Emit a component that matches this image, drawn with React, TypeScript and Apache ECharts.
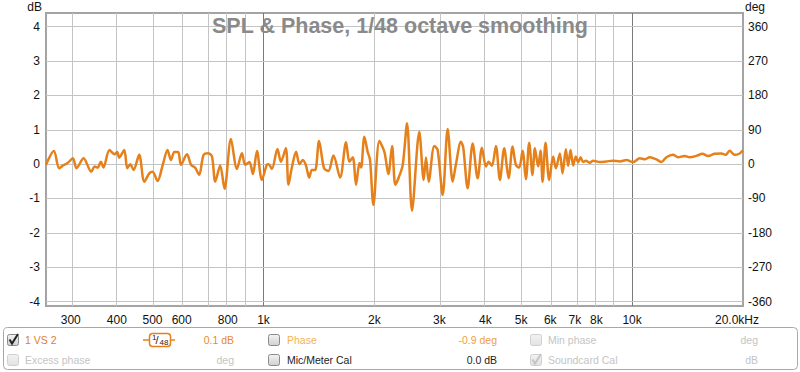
import React, { useEffect, useRef } from "react";
import * as echarts from "echarts";

// Frequency response (Hz) and level (dB)
const FREQ_HZ = [
  257, 270, 279, 285, 294, 304, 311, 325, 341, 348, 355, 362, 368, 382, 394, 401, 406, 419, 427, 435,
  444, 460, 475, 490, 500, 516, 533, 549, 561, 573, 587, 597, 620, 636, 652, 669, 688, 709, 725, 740,
  763, 784, 816, 847, 874, 892, 916, 936, 960, 990, 1021, 1032, 1054, 1091, 1115, 1150, 1169, 1194, 1226, 1252,
  1279, 1305, 1330, 1353, 1381, 1415, 1460, 1500, 1548, 1614, 1675, 1710, 1747, 1783, 1821, 1840, 1878, 1918, 1946, 1987,
  2063, 2128, 2182, 2233, 2279, 2328, 2387, 2452, 2529, 2647, 2721, 2760, 2807, 2907, 2969, 3063, 3160, 3261, 3328, 3434,
  3483, 3580, 3694, 3811, 3915, 4013, 4082, 4167, 4272, 4380, 4499, 4624, 4741, 4839, 4941, 5046, 5151, 5259, 5371, 5449,
  5563, 5647, 5718, 5825, 5958, 6108, 6212, 6370, 6478, 6612, 6708, 6810, 6921, 7038, 7141, 7249, 7367, 7491, 7682, 7841,
  8176, 8524, 8883, 9264, 9656, 10062, 10493, 10824, 11169, 11645, 12015, 12395, 12916, 13327, 13895, 14336, 14947, 15519, 16070, 16754,
  17470, 17944, 18399, 18980, 19583, 20000,
];
const SPL_DB = [
  -0.02, 0.38, -0.12, -0.05, 0.03, 0.17, -0.12, 0.17, -0.22, -0.07, -0.1, 0.07, -0.1, 0.41, 0.29, 0.35, 0.19, 0.41, -0.12, 0.0,
  -0.17, 0.27, -0.51, -0.27, -0.22, -0.49, -0.02, 0.41, 0.12, 0.35, 0.35, -0.02, 0.29, -0.02, -0.1, -0.31, 0.27, 0.32, 0.22, -0.51,
  -0.04, -0.72, 0.73, -0.14, 0.32, -0.02, 0.06, -0.29, 0.38, -0.46, -0.02, 0.0, -0.14, 0.44, 0.07, 0.46, -0.6, -0.1, 0.36, 0.0,
  0.12, -0.05, -0.39, -0.17, -0.17, 0.67, -0.12, -0.2, 0.25, -0.39, 0.64, 0.07, 0.2, -0.6, 0.03, -0.1, 0.8, 0.35, 0.12, -1.19,
  0.67, 0.36, -0.29, 0.53, -0.6, -0.39, -0.02, 1.19, -1.36, 0.94, -0.46, 0.19, -0.51, 0.53, 0.41, -0.9, 1.02, -0.51, 0.0, 0.65,
  0.49, -0.7, 0.6, -0.41, 0.48, -0.07, 0.07, -0.05, 0.53, -0.46, 0.46, -0.41, 0.51, -0.02, -0.1, 0.39, -0.44, 0.62, -0.32, 0.46,
  -0.07, 0.4, -0.51, 0.62, -0.46, 0.22, -0.12, 0.31, -0.27, 0.43, -0.05, 0.41, -0.04, 0.22, 0.05, 0.2, 0.06, 0.1, 0.04, 0.1,
  0.06, 0.08, 0.1, 0.08, 0.12, 0.06, 0.17, 0.14, 0.2, 0.14, 0.06, 0.2, 0.27, 0.2, 0.24, 0.2, 0.24, 0.3, 0.24, 0.3,
  0.31, 0.27, 0.39, 0.27, 0.31, 0.4,
];

const X_LABEL_FREQS = [300, 400, 500, 600, 800, 1000, 2000, 3000, 4000, 5000, 6000, 7000, 8000, 10000, 20000];
const X_LABEL_TEXT = ["300", "400", "500", "600", "800", "1k", "2k", "3k", "4k", "5k", "6k", "7k", "8k", "10k", "20.0kHz"];
const X_GRID_FREQS = [300, 400, 500, 600, 700, 800, 900, 1000, 2000, 3000, 4000, 5000, 6000, 7000, 8000, 9000, 10000];
const X_MAJOR_FREQS = [1000, 10000];
const DB_TICKS = [-4, -3, -2, -1, 0, 1, 2, 3, 4];
const DEG_TICKS = [-360, -270, -180, -90, 0, 90, 180, 270, 360];
const F_MIN = 257;
const F_MAX = 20000;
const DB_MIN = -4.13;
const DB_MAX = 4.4;
const DEG_PER_DB = 90;

const TITLE = "SPL & Phase, 1/48 octave smoothing";

const FONT = "Arial, 'Liberation Sans', sans-serif";
const ORANGE = "#e5801a";
const GRID_COLOR = "#c4c4c4";
const MAJOR_COLOR = "#7a7a7a";

function checkbox(x: number, y: number, checked: boolean, enabled: boolean): any {
  const children: any[] = [
    {
      type: "rect",
      shape: { x, y, width: 11, height: 11, r: 2 },
      style: {
        fill: new echarts.graphic.LinearGradient(0, 0, 0, 1, [
          { offset: 0, color: enabled ? "#f4f4f4" : "#f2f2f2" },
          { offset: 1, color: enabled ? "#cfcfcf" : "#e2e2e2" },
        ]),
        stroke: enabled ? "#8a8a8a" : "#d0d0d0",
        lineWidth: 1,
      },
    },
  ];
  if (checked) {
    children.push({
      type: "polyline",
      shape: { points: [[x + 2, y + 5], [x + 4.5, y + 9], [x + 10.5, y - 0.5]] },
      style: { stroke: enabled ? "#222" : "#c4c4c4", lineWidth: 2, fill: null },
    });
  }
  return { type: "group", children };
}

function label(text: string, x: number, y: number, fill: string, align: string = "left"): any {
  return {
    type: "text",
    x,
    y,
    style: { text, fill, fontSize: 10.5, fontFamily: FONT, align, verticalAlign: "middle" },
  };
}

export default function App() {
  const ref = useRef<HTMLDivElement>(null);

  useEffect(() => {
    if (!ref.current) return;
    const chart = echarts.init(ref.current, undefined, { renderer: "svg" });

    const lx = (f: number) => Math.log10(f);
    const seriesData = FREQ_HZ.map((f, i) => [lx(f), SPL_DB[i]]);
    const labelVals = X_LABEL_FREQS.map(lx);

    const gridLines: any[] = [
      ...X_GRID_FREQS.map((f) => ({
        xAxis: lx(f),
        lineStyle: {
          color: X_MAJOR_FREQS.includes(f) ? MAJOR_COLOR : GRID_COLOR,
          width: 1,
          type: "solid",
        },
      })),
      ...DB_TICKS.map((v) => ({
        yAxis: v,
        lineStyle: { color: GRID_COLOR, width: 1, type: "solid" },
      })),
    ];

    const row1 = 340;
    const row2 = 360;

    chart.setOption({
      animation: false,
      backgroundColor: "#ffffff",
      textStyle: { fontFamily: FONT },
      title: {
        text: TITLE,
        left: "center",
        top: 10,
        textStyle: { fontSize: 21.5, fontWeight: "bold", color: "#8a8a8a", fontFamily: FONT },
      },
      grid: {
        left: 46,
        right: 57,
        top: 13,
        bottom: 66,
        show: true,
        backgroundColor: "#ffffff",
        borderColor: "#a4a4a4",
        borderWidth: 2,
      },
      xAxis: {
        type: "value",
        min: lx(F_MIN),
        max: lx(F_MAX),
        axisLine: { show: false },
        axisTick: { show: false },
        splitLine: { show: false },
        axisLabel: {
          customValues: labelVals,
          margin: 8,
          fontSize: 12,
          color: "#111",
          fontFamily: FONT,
          formatter: (v: number) => {
            const i = labelVals.findIndex((lv) => Math.abs(lv - v) < 1e-6);
            if (i < 0) return "";
            if (i === X_LABEL_TEXT.length - 1) return "{last|" + X_LABEL_TEXT[i] + "}";
            return X_LABEL_TEXT[i];
          },
          rich: { last: { fontSize: 12, color: "#111", fontFamily: FONT, padding: [0, 12, 0, 0] } },
        },
      },
      yAxis: [
        {
          type: "value",
          min: DB_MIN,
          max: DB_MAX,
          axisLine: { show: false },
          axisTick: { show: false },
          splitLine: { show: false },
          axisLabel: { customValues: DB_TICKS, margin: 6, fontSize: 12, color: "#111", fontFamily: FONT },
        },
        {
          type: "value",
          position: "right",
          min: DB_MIN * DEG_PER_DB,
          max: DB_MAX * DEG_PER_DB,
          axisLine: { show: false },
          axisTick: { show: false },
          splitLine: { show: false },
          axisLabel: { customValues: DEG_TICKS, margin: 5, fontSize: 12, color: "#111", fontFamily: FONT },
        },
      ],
      series: [
        {
          type: "line",
          data: [],
          silent: true,
          z: 1,
          markLine: {
            silent: true,
            symbol: ["none", "none"],
            label: { show: false },
            z: 1,
            data: gridLines,
          },
        },
        {
          type: "line",
          name: "1 VS 2",
          data: seriesData,
          showSymbol: false,
          smooth: 0.3,
          clip: true,
          z: 4,
          lineStyle: { color: ORANGE, width: 2.5 },
        },
      ],
      graphic: [
        { type: "text", x: 42, y: 7, style: { text: "dB", fontSize: 12, fontFamily: FONT, fill: "#111", align: "right", verticalAlign: "middle" } },
        { type: "text", x: 745, y: 7, style: { text: "deg", fontSize: 12, fontFamily: FONT, fill: "#111", align: "left", verticalAlign: "middle" } },
        {
          type: "rect",
          shape: { x: 3.5, y: 327.5, width: 794, height: 42, r: 4 },
          style: { fill: "#ffffff", stroke: "#a8a8a8", lineWidth: 1 },
        },
        checkbox(7.5, 334.5, true, true),
        label("1 VS 2", 25, row1, "#e0802c"),
        { type: "line", shape: { x1: 143, y1: row1, x2: 175, y2: row1 }, style: { stroke: ORANGE, lineWidth: 1.5 } },
        {
          type: "rect",
          shape: { x: 149.5, y: 333.5, width: 21, height: 13, r: 3 },
          style: { fill: "#ffffff", stroke: ORANGE, lineWidth: 1.5 },
        },
        { type: "text", x: 152, y: 337, style: { text: "1", fontSize: 8, fontFamily: FONT, fill: "#222", verticalAlign: "middle" } },
        { type: "text", x: 155.5, y: 340, style: { text: "/", fontSize: 11, fontFamily: FONT, fill: "#222", verticalAlign: "middle" } },
        { type: "text", x: 159.5, y: 342, style: { text: "48", fontSize: 8, fontFamily: FONT, fill: "#222", verticalAlign: "middle" } },
        label("0.1 dB", 234, row1, "#e88a2e", "right"),
        checkbox(268.5, 334.5, false, true),
        label("Phase", 287, row1, "#f2b255"),
        label("-0.9 deg", 497, row1, "#f0a03c", "right"),
        checkbox(530.5, 334.5, false, false),
        label("Min phase", 548, row1, "#c4c4c4"),
        label("deg", 758, row1, "#c4c4c4", "right"),
        checkbox(7.5, 354.5, false, false),
        label("Excess phase", 25, row2, "#c4c4c4"),
        label("deg", 234, row2, "#c4c4c4", "right"),
        checkbox(268.5, 354.5, false, true),
        label("Mic/Meter Cal", 287, row2, "#222"),
        label("0.0 dB", 497, row2, "#222", "right"),
        checkbox(530.5, 354.5, true, false),
        label("Soundcard Cal", 548, row2, "#c4c4c4"),
        label("dB", 758, row2, "#c4c4c4", "right"),
      ],
    });

    return () => chart.dispose();
  }, []);

  return (
    <div
      ref={ref}
      style={{ position: "fixed", left: 0, top: 0, width: 800, height: 372, background: "#fff" }}
    />
  );
}
